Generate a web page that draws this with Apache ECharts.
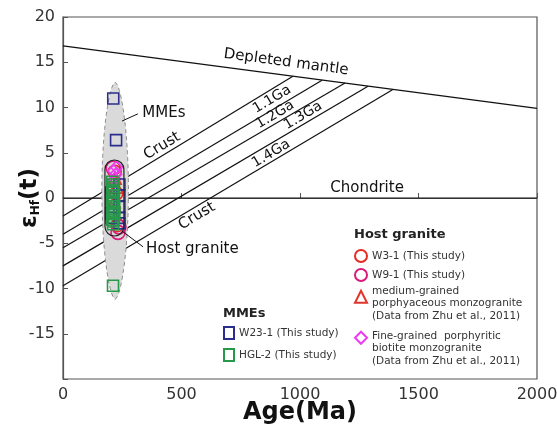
<!DOCTYPE html>
<html><head><meta charset="utf-8">
<script src="https://cdn.jsdelivr.net/npm/echarts@6/dist/echarts.min.js"></script>
<style>html,body{margin:0;padding:0;background:#fff}#c{width:557px;height:433px}</style>
</head><body><div id="c"></div>
<script>
// ---------- data ----------
const xTicks = [0, 500, 1000, 1500, 2000];
const yTicks = [-20, -15, -10, -5, 0, 5, 10, 15, 20];

// reference lines (Age Ma, eHf)
const depletedMantleAge = [0, 2000];
const depletedMantleEhf = [16.8, 9.9];
const chondriteAge = [0, 2000];
const chondriteEhf = [0, 0];
const crustStartEhf = [-2.0, -4.0, -5.5, -7.5, -9.7];
const crustEndAge = [970, 1093, 1190, 1287, 1392];
const crustEndEhf = [13.45, 13.0, 12.7, 12.35, 12.0];

// envelopes: [center age, top eHf, bottom eHf, half width (Ma)]
const mmeEnvelope = [220, 12.8, -11.2, 56];
const hostEnvelope = [217, 4.2, -4.2, 40];

// host granite
const w31Age = [218, 225, 214, 230];
const w31Ehf = [2.9, 0.5, -1.5, -3.0];
const w91Age = [212, 236, 232];
const w91Ehf = [3.3, -3.2, -3.8];
const medAge = [220, 226, 216];
const medEhf = [2.2, 1.2, -0.4];
const fineAge = [214, 222, 218, 226];
const fineEhf = [3.0, 2.6, 2.1, 3.4];

// MMEs
const w23Age = [212, 224, 203, 205, 204, 238, 238, 238, 238, 203, 238, 205];
const w23Ehf = [11.0, 6.4, 0.6, 0.0, -0.6, 1.5, 0.3, -1.0, -2.2, -1.7, -2.8, -2.2];
const hglAge = [211, 208, 213, 210, 215, 209, 212, 214, 207, 211, 216, 209, 213, 210, 215, 208, 212, 214, 210, 216, 211];
const hglEhf = [-9.7, 1.8, 1.5, 1.2, 0.9, 0.6, 0.3, 0.0, -0.3, -0.6, -0.9, -1.2, -1.5, -1.8, -2.1, -2.4, -2.6, -0.4, 0.8, -1.6, -2.9];

// annotation texts
const labelTexts = ['Depleted mantle', 'Chondrite', '1.1Ga', '1.2Ga', '1.3Ga', '1.4Ga', 'Crust', 'Crust', 'MMEs', 'Host granite'];
const labelAge = [941, 1283, 882, 895, 1013, 878, 418, 565, 426, 546];
const labelEhf = [15.0, 1.1, 10.9, 9.2, 9.1, 4.9, 5.75, -2.0, 9.4, -5.6];
const labelAngle = [-7.6, 0, 31, 31, 31, 31, 31, 31, 0, 0];
const leaderAge = [[249, 316], [249, 338]];
const leaderEhf = [[8.5, 9.3], [-3.65, -5.4]];

const zip = (a, b) => a.map((v, i) => [v, b[i]]);
const FONT = 'DejaVu Sans';

// ---------- series ----------
const series = [];
const lineStyle = { color: '#111', width: 1.2 };
function addLine(data) {
  series.push({ type: 'line', data, symbol: 'none', silent: true, z: 1, lineStyle, animation: false });
}
addLine(zip(depletedMantleAge, depletedMantleEhf));
addLine(zip(chondriteAge, chondriteEhf));
crustStartEhf.forEach((s, i) => addLine([[0, s], [crustEndAge[i], crustEndEhf[i]]]));

// MMEs lens envelope
series.push({
  type: 'custom', silent: true, z: 2,
  data: [mmeEnvelope],
  encode: { x: 0, y: 1 },
  renderItem: function (params, api) {
    const c = api.value(0), top = api.value(1), bot = api.value(2), hw = api.value(3);
    const mid = (top + bot) / 2, half = (top - bot) / 2;
    const N = 80, pts = [];
    for (let i = 0; i <= N; i++) {
      const t = -1 + 2 * i / N;
      const w = hw * Math.pow(Math.max(0, 1 - t * t), 0.6);
      pts.push(api.coord([c + w, mid + t * half]));
    }
    for (let i = N; i >= 0; i--) {
      const t = -1 + 2 * i / N;
      const w = hw * Math.pow(Math.max(0, 1 - t * t), 0.6);
      pts.push(api.coord([c - w, mid + t * half]));
    }
    return { type: 'polygon', shape: { points: pts }, style: { fill: '#dadada', stroke: '#8c8c8c', lineWidth: 1, lineDash: [4, 3] } };
  }
});

function scatter(name, ages, ehfs, symbol, size, color, z) {
  series.push({
    name, type: 'scatter', symbol, symbolSize: size, z: z || 3,
    data: zip(ages, ehfs),
    itemStyle: { color: 'rgba(0,0,0,0)', borderColor: color, borderWidth: 1.6, opacity: 1 },
    animation: false
  });
}
const nW31 = 'W3-1 (This study)', nW91 = 'W9-1 (This study)';
const nMed = 'medium-grained porphyaceous monzogranite';
const nFine = 'Fine-grained porphyritic biotite monzogranite';
const nW23 = 'W23-1 (This study)', nHgl = 'HGL-2 (This study)';
scatter(nW31, w31Age, w31Ehf, 'circle', 13, '#e42b24');
scatter(nMed, medAge, medEhf, 'triangle', 12, '#e2342c');
scatter(nW91, w91Age, w91Ehf, 'circle', 14, '#d81b7d');
scatter(nFine, fineAge, fineEhf, 'diamond', 12, '#ee3bee');
scatter(nW23, w23Age, w23Ehf, 'rect', 11, '#2b2e8c');
scatter(nHgl, hglAge, hglEhf, 'rect', 11, '#27994a');

// host granite outline
series.push({
  type: 'custom', silent: true, z: 4,
  data: [hostEnvelope],
  encode: { x: 0, y: 1 },
  renderItem: function (params, api) {
    const c = api.value(0), top = api.value(1), bot = api.value(2), hw = api.value(3);
    const p1 = api.coord([c - hw, top]), p2 = api.coord([c + hw, bot]);
    const w = p2[0] - p1[0], h = p2[1] - p1[1];
    return { type: 'rect', shape: { x: p1[0], y: p1[1], width: w, height: h, r: w / 2 }, style: { fill: 'none', stroke: '#222', lineWidth: 1.2 } };
  }
});

// leader lines
leaderAge.forEach((a, i) => series.push({
  type: 'line', data: zip(a, leaderEhf[i]), symbol: 'none', silent: true, z: 4,
  lineStyle: { color: '#111', width: 1 }, animation: false
}));

// annotation labels
series.push({
  type: 'scatter', silent: true, symbolSize: 0, z: 5, animation: false,
  itemStyle: { opacity: 1 },
  data: labelTexts.map((t, i) => ({
    name: t, value: [labelAge[i], labelEhf[i]],
    label: { rotate: labelAngle[i], fontSize: /Ga$/.test(t) ? 14 : 15 }
  })),
  label: {
    show: true, position: 'inside', formatter: p => p.name,
    fontFamily: FONT, fontSize: 15, color: '#111'
  }
});

const legendText = { fontFamily: FONT, fontSize: 10.5, color: '#333', lineHeight: 12.5 };
const option = {
  animation: false,
  backgroundColor: '#fff',
  grid: { left: 63, right: 20, top: 17, bottom: 54, show: true, borderColor: '#555', borderWidth: 1.2, containLabel: false, outerBoundsMode: 'none' },
  xAxis: {
    type: 'value', min: 0, max: 2000, interval: 500,
    name: 'Age(Ma)', nameLocation: 'middle', nameGap: 22, nameMoveOverlap: false,
    nameTextStyle: { fontFamily: FONT, fontWeight: 'bold', fontSize: 24, color: '#111' },
    axisLine: { lineStyle: { color: '#555', width: 1.2 } },
    axisTick: { inside: true, length: 5, lineStyle: { color: '#555' } },
    axisLabel: { fontFamily: FONT, fontSize: 16, color: '#333', margin: 8, formatter: v => String(v) },
    splitLine: { show: false }
  },
  yAxis: {
    type: 'value', min: -20, max: 20, interval: 5,
    name: '{e|ε}{s|Hf}{e|(t)}', nameLocation: 'middle', nameGap: 21, nameRotate: 90, nameMoveOverlap: false,
    nameTextStyle: {
      rich: {
        e: { fontFamily: FONT, fontWeight: 'bold', fontSize: 23, color: '#111' },
        s: { fontFamily: FONT, fontWeight: 'bold', fontSize: 12, color: '#111', verticalAlign: 'bottom' }
      }
    },
    axisLine: { lineStyle: { color: '#555', width: 1.2 } },
    axisTick: { inside: true, length: 5, lineStyle: { color: '#555' } },
    axisLabel: { fontFamily: FONT, fontSize: 16, color: '#333', margin: 8, formatter: v => (v === -20 ? '' : String(v)) },
    splitLine: { show: false }
  },
  legend: [
    { data: [nW31, nW91], orient: 'vertical', left: 354, top: 249, padding: 0, itemWidth: 12, itemHeight: 12, itemGap: 5, textStyle: legendText, selectedMode: false },
    { data: [nMed], left: 354, top: 271, padding: 0, itemWidth: 12, itemHeight: 12, selectedMode: false,
      formatter: () => '{sp| }\nmedium-grained\nporphyaceous monzogranite\n(Data from Zhu et al., 2011)',
      textStyle: Object.assign({}, legendText, { rich: { sp: { fontSize: 2, lineHeight: 14 } } }) },
    { data: [nFine], left: 354, top: 308, padding: 0, itemWidth: 12, itemHeight: 12, selectedMode: false,
      formatter: () => '{sp| }\nFine-grained  porphyritic\nbiotite monzogranite\n(Data from Zhu et al., 2011)',
      textStyle: Object.assign({}, legendText, { rich: { sp: { fontSize: 2, lineHeight: 22 } } }) },
    { data: [nW23, nHgl], orient: 'vertical', left: 223, top: 326, padding: 0, itemWidth: 10, itemHeight: 12, itemGap: 8, textStyle: legendText, selectedMode: false }
  ],
  graphic: [
    { type: 'text', left: 354, top: 228, style: { text: 'Host granite', font: 'bold 13px "DejaVu Sans"', fill: '#222' } },
    { type: 'text', left: 223, top: 307, style: { text: 'MMEs', font: 'bold 13px "DejaVu Sans"', fill: '#222' } }
  ],
  series
};
const chart = echarts.init(document.getElementById('c'), null, { renderer: 'canvas' });
chart.setOption(option);
</script>
</body></html>
